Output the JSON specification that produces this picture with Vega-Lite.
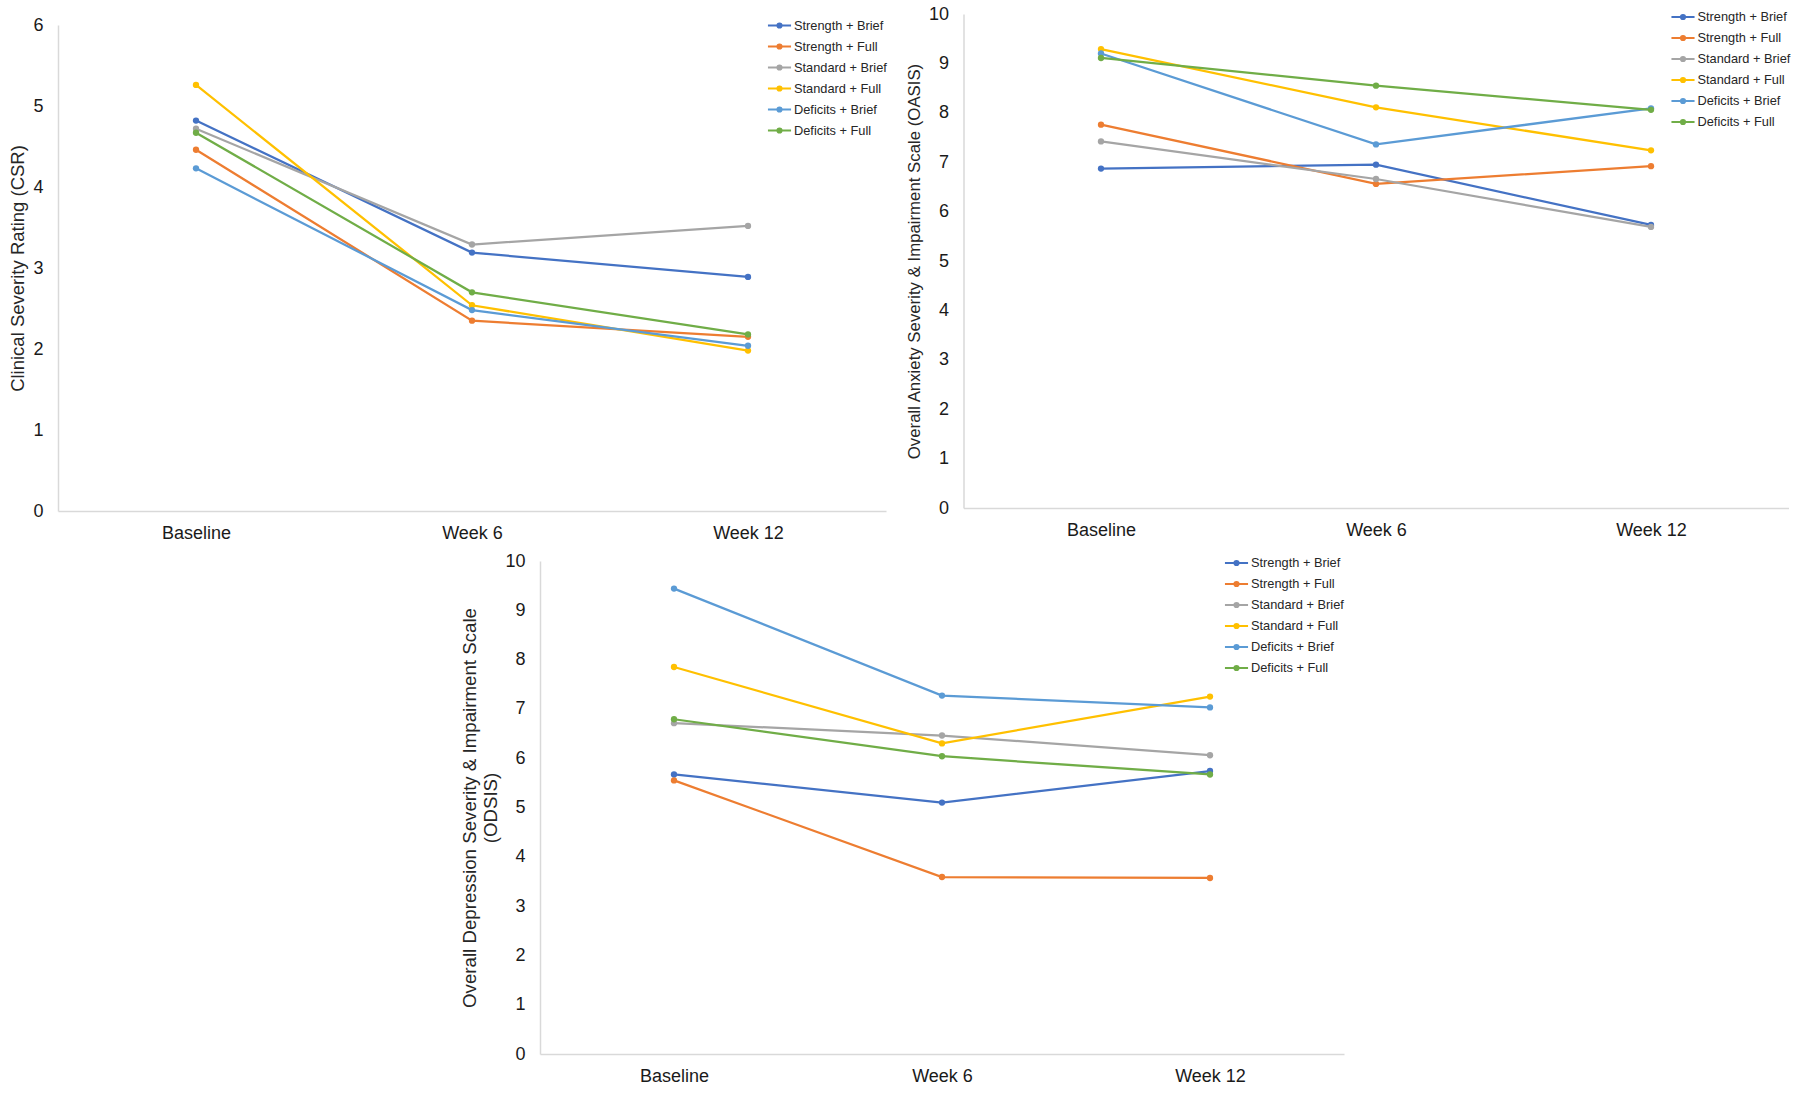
{
  "$schema": "https://vega.github.io/schema/vega-lite/v6.json",
  "background": "white",
  "padding": {"left": 8, "top": 5, "right": 0, "bottom": 0},
  "datasets": {
    "scores": [
      {"measure": "CSR", "time": "Baseline", "group": "Strength + Brief", "value": 4.82},
      {"measure": "CSR", "time": "Week 6", "group": "Strength + Brief", "value": 3.19},
      {"measure": "CSR", "time": "Week 12", "group": "Strength + Brief", "value": 2.89},
      {"measure": "CSR", "time": "Baseline", "group": "Strength + Full", "value": 4.46},
      {"measure": "CSR", "time": "Week 6", "group": "Strength + Full", "value": 2.35},
      {"measure": "CSR", "time": "Week 12", "group": "Strength + Full", "value": 2.15},
      {"measure": "CSR", "time": "Baseline", "group": "Standard + Brief", "value": 4.72},
      {"measure": "CSR", "time": "Week 6", "group": "Standard + Brief", "value": 3.29},
      {"measure": "CSR", "time": "Week 12", "group": "Standard + Brief", "value": 3.52},
      {"measure": "CSR", "time": "Baseline", "group": "Standard + Full", "value": 5.26},
      {"measure": "CSR", "time": "Week 6", "group": "Standard + Full", "value": 2.54},
      {"measure": "CSR", "time": "Week 12", "group": "Standard + Full", "value": 1.98},
      {"measure": "CSR", "time": "Baseline", "group": "Deficits + Brief", "value": 4.23},
      {"measure": "CSR", "time": "Week 6", "group": "Deficits + Brief", "value": 2.48},
      {"measure": "CSR", "time": "Week 12", "group": "Deficits + Brief", "value": 2.04},
      {"measure": "CSR", "time": "Baseline", "group": "Deficits + Full", "value": 4.67},
      {"measure": "CSR", "time": "Week 6", "group": "Deficits + Full", "value": 2.70},
      {"measure": "CSR", "time": "Week 12", "group": "Deficits + Full", "value": 2.18},

      {"measure": "OASIS", "time": "Baseline", "group": "Strength + Brief", "value": 6.87},
      {"measure": "OASIS", "time": "Week 6", "group": "Strength + Brief", "value": 6.95},
      {"measure": "OASIS", "time": "Week 12", "group": "Strength + Brief", "value": 5.73},
      {"measure": "OASIS", "time": "Baseline", "group": "Strength + Full", "value": 7.76},
      {"measure": "OASIS", "time": "Week 6", "group": "Strength + Full", "value": 6.56},
      {"measure": "OASIS", "time": "Week 12", "group": "Strength + Full", "value": 6.92},
      {"measure": "OASIS", "time": "Baseline", "group": "Standard + Brief", "value": 7.42},
      {"measure": "OASIS", "time": "Week 6", "group": "Standard + Brief", "value": 6.66},
      {"measure": "OASIS", "time": "Week 12", "group": "Standard + Brief", "value": 5.69},
      {"measure": "OASIS", "time": "Baseline", "group": "Standard + Full", "value": 9.29},
      {"measure": "OASIS", "time": "Week 6", "group": "Standard + Full", "value": 8.11},
      {"measure": "OASIS", "time": "Week 12", "group": "Standard + Full", "value": 7.24},
      {"measure": "OASIS", "time": "Baseline", "group": "Deficits + Brief", "value": 9.20},
      {"measure": "OASIS", "time": "Week 6", "group": "Deficits + Brief", "value": 7.36},
      {"measure": "OASIS", "time": "Week 12", "group": "Deficits + Brief", "value": 8.09},
      {"measure": "OASIS", "time": "Baseline", "group": "Deficits + Full", "value": 9.11},
      {"measure": "OASIS", "time": "Week 6", "group": "Deficits + Full", "value": 8.55},
      {"measure": "OASIS", "time": "Week 12", "group": "Deficits + Full", "value": 8.06},

      {"measure": "ODSIS", "time": "Baseline", "group": "Strength + Brief", "value": 5.67},
      {"measure": "ODSIS", "time": "Week 6", "group": "Strength + Brief", "value": 5.10},
      {"measure": "ODSIS", "time": "Week 12", "group": "Strength + Brief", "value": 5.74},
      {"measure": "ODSIS", "time": "Baseline", "group": "Strength + Full", "value": 5.55},
      {"measure": "ODSIS", "time": "Week 6", "group": "Strength + Full", "value": 3.59},
      {"measure": "ODSIS", "time": "Week 12", "group": "Strength + Full", "value": 3.57},
      {"measure": "ODSIS", "time": "Baseline", "group": "Standard + Brief", "value": 6.71},
      {"measure": "ODSIS", "time": "Week 6", "group": "Standard + Brief", "value": 6.46},
      {"measure": "ODSIS", "time": "Week 12", "group": "Standard + Brief", "value": 6.06},
      {"measure": "ODSIS", "time": "Baseline", "group": "Standard + Full", "value": 7.85},
      {"measure": "ODSIS", "time": "Week 6", "group": "Standard + Full", "value": 6.30},
      {"measure": "ODSIS", "time": "Week 12", "group": "Standard + Full", "value": 7.25},
      {"measure": "ODSIS", "time": "Baseline", "group": "Deficits + Brief", "value": 9.44},
      {"measure": "ODSIS", "time": "Week 6", "group": "Deficits + Brief", "value": 7.27},
      {"measure": "ODSIS", "time": "Week 12", "group": "Deficits + Brief", "value": 7.03},
      {"measure": "ODSIS", "time": "Baseline", "group": "Deficits + Full", "value": 6.79},
      {"measure": "ODSIS", "time": "Week 6", "group": "Deficits + Full", "value": 6.04},
      {"measure": "ODSIS", "time": "Week 12", "group": "Deficits + Full", "value": 5.67}
    ]
  },
  "config": {
    "font": "Liberation Sans",
    "view": {"stroke": null},
    "axis": {
      "domainColor": "#D9D9D9",
      "domainWidth": 1.5,
      "ticks": false,
      "grid": false,
      "labelFont": "Liberation Sans",
      "labelFontSize": 18,
      "labelColor": "#1a1a1a",
      "titleFont": "Liberation Sans",
      "titleFontWeight": "normal",
      "titleColor": "#262626"
    },
    "axisX": {"labelAngle": 0, "labelPadding": 13},
    "axisY": {"labelPadding": 15, "titlePadding": 5},
    "legend": {
      "orient": "none",
      "padding": 0,
      "labelFont": "Liberation Sans",
      "labelFontSize": 12.8,
      "labelColor": "#262626",
      "rowPadding": 2,
      "labelOffset": 3
    }
  },
  "resolve": {"legend": {"color": "independent"}},
  "spacing": 9,
  "vconcat": [
    {
      "resolve": {"legend": {"color": "independent"}},
      "spacing": 18.5,
      "hconcat": [
        {
          "width": 828,
          "height": 497,
          "data": {"name": "scores"},
          "transform": [{"filter": "datum.measure === 'CSR'"}],
          "encoding": {
            "x": {"field": "time", "type": "ordinal", "sort": ["Baseline", "Week 6", "Week 12"], "scale": {"type": "point", "padding": 0.5}, "axis": {"title": null}},
            "y": {"field": "value", "type": "quantitative", "scale": {"domain": [0, 6], "nice": false, "range": [497, 11]}, "axis": {"title": "Clinical Severity Rating (CSR)", "values": [0, 1, 2, 3, 4, 5, 6], "titleFontSize": 18.5}},
            "color": {
              "field": "group", "type": "nominal",
              "sort": ["Strength + Brief", "Strength + Full", "Standard + Brief", "Standard + Full", "Deficits + Brief", "Deficits + Full"],
              "scale": {"domain": ["Strength + Brief", "Strength + Full", "Standard + Brief", "Standard + Full", "Deficits + Brief", "Deficits + Full"], "range": ["#4472C4", "#ED7D31", "#A5A5A5", "#FFC000", "#5B9BD5", "#70AD47"]},
              "legend": {
                "title": null, "legendX": 710, "legendY": 0,
                "symbolType": "M-1.1,0L1.1,0M0.2,0A0.2,0.2,0,1,1,-0.2,0A0.2,0.2,0,1,1,0.2,0Z",
                "symbolSize": 441, "symbolStrokeWidth": 2,
                "encode": {"symbols": {"update": {"fill": {"scale": "color", "field": "value"}, "stroke": {"scale": "color", "field": "value"}, "strokeWidth": {"value": 2}, "opacity": {"value": 1}}}}
              }
            }
          },
          "layer": [
            {"mark": {"type": "line", "strokeWidth": 2.25}},
            {"mark": {"type": "point", "filled": true, "size": 40, "opacity": 1}}
          ]
        },
        {
          "width": 825,
          "height": 494,
          "data": {"name": "scores"},
          "transform": [{"filter": "datum.measure === 'OASIS'"}],
          "encoding": {
            "x": {"field": "time", "type": "ordinal", "sort": ["Baseline", "Week 6", "Week 12"], "scale": {"type": "point", "padding": 0.5}, "axis": {"title": null}},
            "y": {"field": "value", "type": "quantitative", "scale": {"domain": [0, 10], "nice": false}, "axis": {"title": "Overall Anxiety Severity & Impairment Scale (OASIS)", "values": [0, 1, 2, 3, 4, 5, 6, 7, 8, 9, 10], "titleFontSize": 16.8}},
            "color": {
              "field": "group", "type": "nominal",
              "sort": ["Strength + Brief", "Strength + Full", "Standard + Brief", "Standard + Full", "Deficits + Brief", "Deficits + Full"],
              "scale": {"domain": ["Strength + Brief", "Strength + Full", "Standard + Brief", "Standard + Full", "Deficits + Brief", "Deficits + Full"], "range": ["#4472C4", "#ED7D31", "#A5A5A5", "#FFC000", "#5B9BD5", "#70AD47"]},
              "legend": {
                "title": null, "legendX": 708, "legendY": -8.5,
                "symbolType": "M-1.1,0L1.1,0M0.2,0A0.2,0.2,0,1,1,-0.2,0A0.2,0.2,0,1,1,0.2,0Z",
                "symbolSize": 441, "symbolStrokeWidth": 2,
                "encode": {"symbols": {"update": {"fill": {"scale": "color", "field": "value"}, "stroke": {"scale": "color", "field": "value"}, "strokeWidth": {"value": 2}, "opacity": {"value": 1}}}}
              }
            }
          },
          "layer": [
            {"mark": {"type": "line", "strokeWidth": 2.25}},
            {"mark": {"type": "point", "filled": true, "size": 40, "opacity": 1}}
          ]
        }
      ]
    },
    {
      "resolve": {"legend": {"color": "independent"}},
      "align": "none",
      "spacing": 20,
      "hconcat": [
        {
          "width": 382,
          "height": 10,
          "data": {"values": []},
          "mark": "point"
        },
        {
          "width": 804,
          "height": 493,
          "data": {"name": "scores"},
          "transform": [{"filter": "datum.measure === 'ODSIS'"}],
          "encoding": {
            "x": {"field": "time", "type": "ordinal", "sort": ["Baseline", "Week 6", "Week 12"], "scale": {"type": "point", "padding": 0.5}, "axis": {"title": null}},
            "y": {"field": "value", "type": "quantitative", "scale": {"domain": [0, 10], "nice": false}, "axis": {"title": ["Overall Depression Severity & Impairment Scale", "(ODSIS)"], "values": [0, 1, 2, 3, 4, 5, 6, 7, 8, 9, 10], "titleFontSize": 18.7, "titleLineHeight": 21, "titlePadding": 4}},
            "color": {
              "field": "group", "type": "nominal",
              "sort": ["Strength + Brief", "Strength + Full", "Standard + Brief", "Standard + Full", "Deficits + Brief", "Deficits + Full"],
              "scale": {"domain": ["Strength + Brief", "Strength + Full", "Standard + Brief", "Standard + Full", "Deficits + Brief", "Deficits + Full"], "range": ["#4472C4", "#ED7D31", "#A5A5A5", "#FFC000", "#5B9BD5", "#70AD47"]},
              "legend": {
                "title": null, "legendX": 685, "legendY": -9.5,
                "symbolType": "M-1.1,0L1.1,0M0.2,0A0.2,0.2,0,1,1,-0.2,0A0.2,0.2,0,1,1,0.2,0Z",
                "symbolSize": 441, "symbolStrokeWidth": 2,
                "encode": {"symbols": {"update": {"fill": {"scale": "color", "field": "value"}, "stroke": {"scale": "color", "field": "value"}, "strokeWidth": {"value": 2}, "opacity": {"value": 1}}}}
              }
            }
          },
          "layer": [
            {"mark": {"type": "line", "strokeWidth": 2.25}},
            {"mark": {"type": "point", "filled": true, "size": 40, "opacity": 1}}
          ]
        }
      ]
    }
  ]
}
